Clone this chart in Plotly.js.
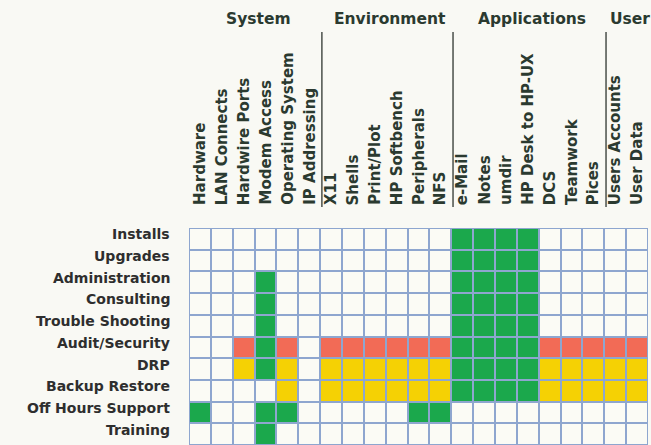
<!DOCTYPE html>
<html>
<head>
<meta charset="utf-8">
<script src="https://cdn.plot.ly/plotly-3.0.1.min.js"></script>
<style>html,body{margin:0;padding:0;background:#f9f9f4;}#chart{width:651px;height:445px;}</style>
</head>
<body>
<div id="chart"></div>
<script>
// Column categories (top labels)
const columns = ["Hardware","LAN Connects","Hardwire Ports","Modem Access","Operating System","IP Addressing",
  "X11","Shells","Print/Plot","HP Softbench","Peripherals","NFS",
  "e-Mail","Notes","umdir","HP Desk to HP-UX","DCS","Teamwork","Pices",
  "Users Accounts","User Data"];
// Column groups
const groups = ["System","Environment","Applications","User"];
const groupSizes = [6,6,7,2];
// Row categories
const rows = ["Installs","Upgrades","Administration","Consulting","Trouble Shooting",
  "Audit/Security","DRP","Backup Restore","Off Hours Support","Training"];
// Status codes: 0 = none, 1 = green, 2 = red, 3 = yellow
const installs        = [0,0,0,0,0,0, 0,0,0,0,0,0, 1,1,1,1,0,0,0, 0,0];
const upgrades        = [0,0,0,0,0,0, 0,0,0,0,0,0, 1,1,1,1,0,0,0, 0,0];
const administration  = [0,0,0,1,0,0, 0,0,0,0,0,0, 1,1,1,1,0,0,0, 0,0];
const consulting      = [0,0,0,1,0,0, 0,0,0,0,0,0, 1,1,1,1,0,0,0, 0,0];
const troubleShooting = [0,0,0,1,0,0, 0,0,0,0,0,0, 1,1,1,1,0,0,0, 0,0];
const auditSecurity   = [0,0,2,1,2,0, 2,2,2,2,2,2, 1,1,1,1,2,2,2, 2,2];
const drp             = [0,0,3,1,3,0, 3,3,3,3,3,3, 1,1,1,1,3,3,3, 3,3];
const backupRestore   = [0,0,0,0,3,0, 3,3,3,3,3,3, 1,1,1,1,3,3,3, 3,3];
const offHours        = [1,0,0,1,1,0, 0,0,0,0,1,1, 0,0,0,0,0,0,0, 0,0];
const training        = [0,0,0,1,0,0, 0,0,0,0,0,0, 0,0,0,0,0,0,0, 0,0];

const z = [installs, upgrades, administration, consulting, troubleShooting,
  auditSecurity, drp, backupRestore, offHours, training];

const cEmpty = "#fbfbf5", cGreen = "#1ba84c", cRed = "#f26b56", cYellow = "#f5d104";
const lineColor = "#8ea6cf";
const font = "DejaVu Sans, sans-serif";

const xIdx = columns.map((c,i)=>i);
const yIdx = rows.map((r,i)=>i);

const trace = {
  type: "heatmap",
  z: z, x: xIdx, y: yIdx,
  zmin: 0, zmax: 3,
  colorscale: [[0,cEmpty],[1/3,cGreen],[2/3,cRed],[1,cYellow]],
  showscale: false,
  xgap: 2, ygap: 2,
  hoverinfo: "skip"
};

const annotations = [];
// row labels
rows.forEach((r,i)=>{
  annotations.push({xref:"paper", yref:"y", x:0, y:i, xanchor:"right", yanchor:"middle",
    xshift:-17, yshift:4.5, text:r, showarrow:false,
    font:{family:font, size:14, color:"#2e2e2e", weight:"bold"}});
});
// column labels
columns.forEach((c,i)=>{
  annotations.push({xref:"x", yref:"paper", x:i, y:1, xanchor:"center", yanchor:"bottom",
    yshift:21, textangle:-90, text:c, showarrow:false,
    font:{family:font, size:15, color:"#2b3a30", weight:"bold"}});
});
// group titles and separators
const shapes = [];
let start = 0;
groups.forEach((g,k)=>{
  const n = groupSizes[k];
  const center = start + (n-1)/2;
  annotations.push({xref:"x", yref:"paper", x:center, y:1, xanchor:"center", yanchor:"middle",
    xshift:4, yshift:209, text:g, showarrow:false,
    font:{family:font, size:15.5, color:"#2b3a30", weight:"bold"}});
  if (k>0) {
    const b = start - 0.5 + 0.08;
    shapes.push({type:"line", xref:"x", yref:"paper", x0:b, x1:b, y0:1.0968, y1:1.9032,
      line:{color:"#4a4f4a", width:1.5}});
  }
  start += n;
});
shapes.push({type:"rect", xref:"x", yref:"y", x0:-0.5, x1:columns.length-0.5, y0:-0.5, y1:rows.length-0.5,
  line:{color:lineColor, width:1.5}});

const layout = {
  width: 651, height: 445,
  margin: {l:189, r:3, t:228, b:0, pad:0},
  paper_bgcolor: "#f9f9f4",
  plot_bgcolor: lineColor,
  xaxis: {range:[-0.5, columns.length-0.5], showticklabels:false, showgrid:false, zeroline:false, ticks:"", fixedrange:true},
  yaxis: {range:[rows.length-0.5, -0.5], showticklabels:false, showgrid:false, zeroline:false, ticks:"", fixedrange:true},
  annotations: annotations,
  shapes: shapes,
  showlegend: false
};

Plotly.newPlot("chart", [trace], layout, {displayModeBar:false, staticPlot:true});
</script>
</body>
</html>
